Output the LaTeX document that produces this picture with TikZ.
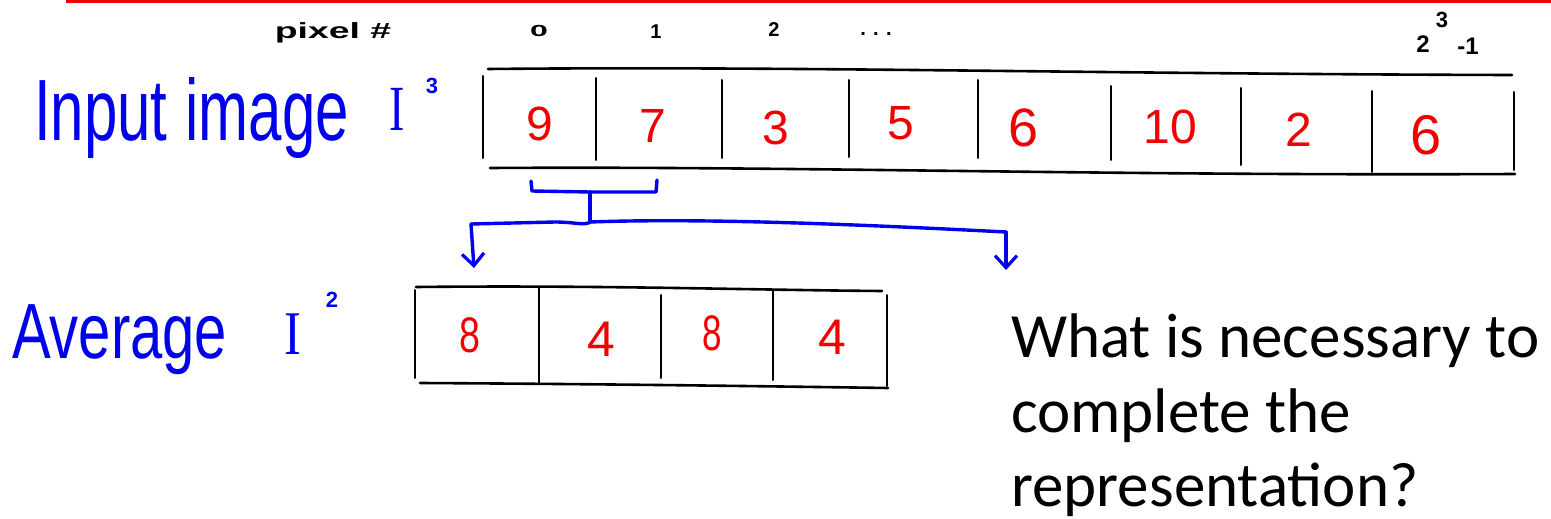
\documentclass[tikz,border=0pt]{standalone}
\usepackage{fontspec}
\setmainfont{Carlito}
\newfontfamily\hand{Liberation Sans}
\newfontfamily\handserif{Liberation Serif}
\usetikzlibrary{arrows.meta}
\definecolor{inkblue}{RGB}{0,0,235}
\definecolor{inkred}{RGB}{240,0,0}
\tikzset{
  frame/.style={draw=black, line width=2.6pt, line cap=round},
  cellnum/.style={text=inkred, font=\hand\fontsize{48}{48}\selectfont, inner sep=0pt},
  smallnum/.style={text=inkred, font=\hand\fontsize{50}{50}\selectfont, inner sep=0pt},
  idx/.style={text=black, font=\hand\bfseries\fontsize{20}{20}\selectfont, inner sep=0pt},
  bluelabel/.style={text=inkblue, font=\hand\fontsize{60}{60}\selectfont, inner sep=0pt, anchor=base west},
  bluesup/.style={text=inkblue, font=\hand\bfseries\fontsize{22}{22}\selectfont, inner sep=0pt},
  bluepen/.style={draw=inkblue, line width=3.4pt, line cap=round, line join=round},
  bluearrow/.style={bluepen, -{Straight Barb[length=12pt,width=22pt,line width=3.2pt]}},
  question/.style={text=black, font=\fontsize{63}{63}\selectfont, inner sep=0pt, anchor=base west},
}
\begin{document}
\begin{tikzpicture}[x=1pt,y=-1pt]
\useasboundingbox (0,0) rectangle (1551,519);
% red rule at top
\draw[draw=inkred, line width=4pt] (66,1.5) -- (1551,1.5);

% header labels
\node[text=black, font=\hand\bfseries\fontsize{22}{22}\selectfont, inner sep=0pt] (pixlab) at (333,33) {\scalebox{1.7}[1]{pixel \#}};
\node[idx] (i0) at (539,31) {\scalebox{1.6}[0.8]{0}};
\node[idx] (i1) at (656,32) {1};
\node[idx] (i2) at (774,30) {2};
\node[idx] (idots) at (876,34) {. . .};
\node[idx, font=\hand\bfseries\fontsize{24}{24}\selectfont] (ilast) at (1423,44) {2};
\node[idx, font=\hand\bfseries\fontsize{22}{22}\selectfont] (ilastexp) at (1442,20) {3};
\node[idx, font=\hand\bfseries\fontsize{24}{24}\selectfont] (ilastm) at (1468,46) {-1};

% Input image label
\node[bluelabel] (inlab) at (34,140) {\scalebox{1}[1.45]{Input\hspace{18pt}image}};
\node[bluelabel, font=\handserif\fontsize{46}{46}\selectfont] (inI) at (389,130) {\scalebox{1}[1.4]{I}};
\node[bluesup] (inexp) at (432,86) {3};

% top array frame
\draw[frame] (488,69) .. controls (800,66) and (1100,74) .. (1512,75);
\draw[frame] (490,168) .. controls (800,166) and (1100,176) .. (1515,174);
\foreach \x/\ya/\yb in {483/76/158, 596/78/160, 722/80/158, 849/80/157, 978/80/158, 1111/86/160, 1241/88/165, 1372/91/172, 1514/92/170}
  \draw[frame, line width=2pt] (\x,\ya) -- (\x,\yb);

% top array numbers
\node[cellnum] (t0) at (540,124) {9};
\node[cellnum] (t1) at (653,126) {7};
\node[cellnum] (t2) at (776,128) {3};
\node[cellnum] (t3) at (901,123) {5};
\node[cellnum, font=\hand\fontsize{54}{54}\selectfont] (t4) at (1024,128) {6};
\node[cellnum] (t5) at (1170,127) {10};
\node[cellnum] (t6) at (1299,130) {2};
\node[cellnum, font=\hand\fontsize{56}{56}\selectfont] (t7) at (1426,135) {6};

% blue bracket and branching arrows
\coordinate (bl) at (531,181);
\coordinate (br) at (657,180);
\coordinate (bmid) at (590,192);
\coordinate (fork) at (590,222);
\coordinate (leftend) at (471,224);
\coordinate (rightend) at (1006,232);
\coordinate (lefttip) at (474,268);
\coordinate (righttip) at (1006,270);
\draw[bluepen] (bl) -- (532,191) -- (bmid) -- (656,192) -- (br);
\draw[bluepen] (bmid) -- (fork);
\draw[bluepen] (leftend) -- (555,222) .. controls (575,222) and (585,226) .. (fork)
   .. controls (700,218) and (850,224) .. (rightend);
\draw[bluearrow] (leftend) -- (lefttip);
\draw[bluearrow] (rightend) -- (righttip);

% Average label
\node[bluelabel, font=\hand\fontsize{58}{58}\selectfont] (avlab) at (12,358) {\scalebox{1}[1.35]{Average}};
\node[bluelabel, font=\handserif\fontsize{46}{46}\selectfont] (avI) at (284,354) {\scalebox{1.1}[1.35]{I}};
\node[bluesup] (avexp) at (332,300) {2};

% bottom array frame
\draw[frame] (416,287) .. controls (600,285) and (750,290) .. (882,291);
\draw[frame] (420,383) .. controls (600,384) and (750,386) .. (888,388);
\foreach \x/\ya/\yb in {415/290/378, 539/288/383, 661/295/378, 773/290/380, 887/295/386}
  \draw[frame, line width=2pt] (\x,\ya) -- (\x,\yb);

% bottom array numbers
\node[smallnum] (b0) at (470,335) {\scalebox{0.75}[1]{8}};
\node[smallnum] (b1) at (601,339) {4};
\node[smallnum] (b2) at (712,333) {\scalebox{0.7}[1]{8}};
\node[smallnum] (b3) at (832,337) {4};

% question text
\node[question] (q1) at (1011,357) {What is necessary to};
\node[question] (q2) at (1011,432) {complete the};
\node[question] (q3) at (1011,506) {representation?};
\end{tikzpicture}
\end{document}
